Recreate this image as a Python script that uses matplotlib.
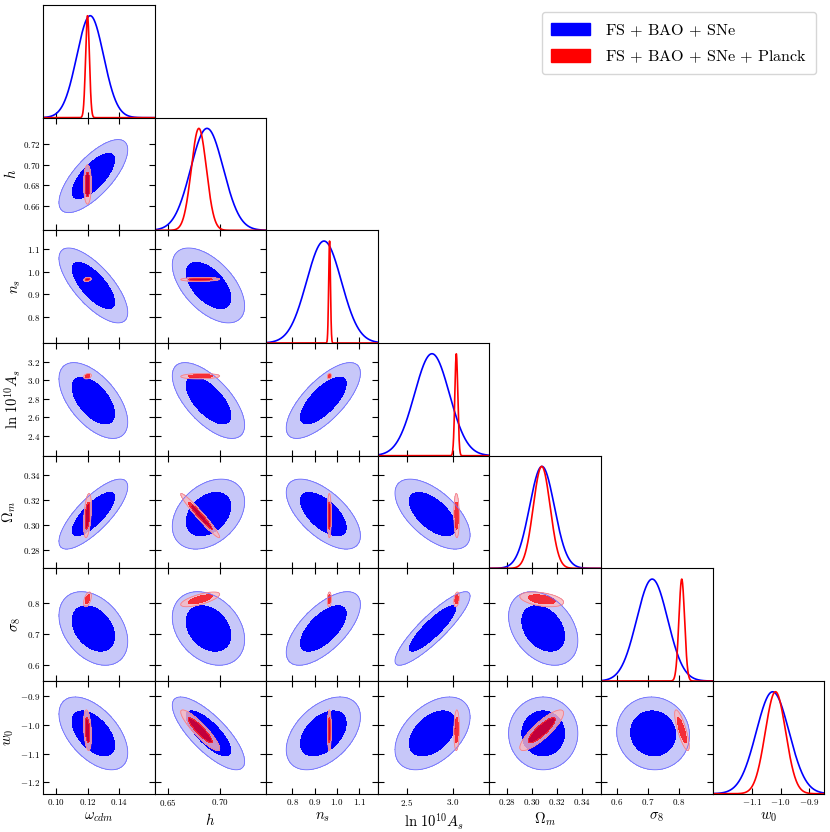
import numpy as np
import matplotlib
matplotlib.use('Agg')
import matplotlib.pyplot as plt
from matplotlib.patches import Patch

plt.rcParams['mathtext.fontset'] = 'cm'
plt.rcParams['font.family'] = 'serif'
plt.rcParams['font.serif'] = ['cmr10', 'DejaVu Serif']
plt.rcParams['axes.formatter.use_mathtext'] = True

# parameters, axis ranges and ticks
names = [r'$\omega_{cdm}$', r'$h$', r'$n_s$', r'$\ln\,10^{10} A_s$',
         r'$\Omega_m$', r'$\sigma_8$', r'$w_0$']
lims = [(0.0917, 0.1624), (0.637, 0.745), (0.683, 1.184), (2.185, 3.40),
        (0.2657, 0.3556), (0.55, 0.91), (-1.240, -0.846)]
xticks = [[0.10, 0.12, 0.14], [0.65, 0.70], [0.8, 0.9, 1.0, 1.1], [2.5, 3.0],
          [0.28, 0.30, 0.32, 0.34], [0.6, 0.7, 0.8], [-1.1, -1.0, -0.9]]
yticks = [[0.10, 0.12, 0.14], [0.66, 0.68, 0.70, 0.72], [0.8, 0.9, 1.0, 1.1],
          [2.4, 2.6, 2.8, 3.0, 3.2], [0.28, 0.30, 0.32, 0.34], [0.6, 0.7, 0.8],
          [-1.2, -1.1, -1.0, -0.9]]
decimals = [2, 2, 1, 1, 2, 1, 1]

# FS + BAO + SNe (blue)
blue_mean = [0.1235, 0.689, 0.939, 2.78, 0.309, 0.718, -1.029]
blue_sigma = [0.0089, 0.0143, 0.068, 0.167, 0.0114, 0.048, 0.052]
blue_peak = [0.1215, 0.6876, 0.942, 2.774, 0.308, 0.715, -1.028]
blue_sigma_1d = [0.0085, 0.0158, 0.078, 0.19, 0.0100, 0.050, 0.058]
blue_corr = [[0.72],
             [-0.72, -0.55],
             [-0.57, -0.65, 0.72],
             [0.78, 0.35, -0.62, -0.60],
             [-0.35, -0.30, 0.65, 0.88, -0.33],
             [-0.53, -0.77, 0.45, 0.45, 0.0, -0.05]]

# FS + BAO + SNe + Planck (red)
red_mean = [0.1198, 0.681, 0.966, 3.042, 0.3078, 0.811, -1.018]
red_sigma = [0.0010, 0.0077, 0.0036, 0.012, 0.0072, 0.0096, 0.029]
red_peak = [0.1198, 0.6797, 0.967, 3.039, 0.3078, 0.8104, -1.018]
red_sigma_1d = [0.0012, 0.0073, 0.0040, 0.016, 0.0068, 0.0092, 0.036]
red_corr = [[0.0],
            [0.3, 0.1],
            [0.3, 0.1, 0.2],
            [0.4, -0.97, 0.0, -0.1],
            [0.5, 0.7, 0.1, 0.3, -0.4],
            [-0.3, -0.9, 0.0, 0.1, 0.85, -0.8]]

labels = [r'$\mathrm{FS}\,+\,\mathrm{BAO}\,+\,\mathrm{SNe}$',
          r'$\mathrm{FS}\,+\,\mathrm{BAO}\,+\,\mathrm{SNe}\,+\,\mathrm{Planck}$']

blue_fill = [(0.78, 0.78, 0.975, 1.0), (0.0, 0.0, 1.0, 1.0)]
red_fill = [(0.976, 0.73, 0.753, 0.8), (1.0, 0.0, 0.0, 0.765)]
L95 = np.exp(-5.99 / 2)
L68 = np.exp(-2.28 / 2)

n = len(names)


def density(mean, sigma, corr, i, j):
    mx, my = mean[i], mean[j]
    sx, sy = sigma[i], sigma[j]
    rho = corr[j - 1][i]
    x = np.linspace(mx - 3.5 * sx, mx + 3.5 * sx, 300)
    y = np.linspace(my - 3.5 * sy, my + 3.5 * sy, 300)
    X, Y = np.meshgrid(x, y)
    dx = (X - mx) / sx
    dy = (Y - my) / sy
    q = (dx ** 2 - 2 * rho * dx * dy + dy ** 2) / (1 - rho ** 2)
    return X, Y, np.exp(-0.5 * q)


def tick_text(v, d):
    return '$%.*f$' % (d, v)


fig, axes = plt.subplots(n, n, figsize=(8.3, 8.32), dpi=100)
fig.subplots_adjust(left=0.052, right=0.993, bottom=0.046, top=0.994,
                    wspace=0, hspace=0)

for r in range(n):
    for c in range(n):
        ax = axes[r, c]
        if c > r:
            ax.axis('off')
            continue
        for sp in ax.spines.values():
            sp.set_linewidth(0.8)
        ax.set_xlim(lims[c])
        ax.set_xticks(xticks[c])
        ax.set_xticklabels([tick_text(v, decimals[c]) for v in xticks[c]])
        if r == c:
            xs = np.linspace(lims[c][0], lims[c][1], 800)
            ax.plot(xs, np.exp(-0.5 * ((xs - blue_peak[c]) / blue_sigma_1d[c]) ** 2),
                    color='blue', lw=1.2)
            ax.plot(xs, np.exp(-0.5 * ((xs - red_peak[c]) / red_sigma_1d[c]) ** 2),
                    color='red', lw=1.2)
            ax.set_ylim(0, 1.105)
            ax.set_yticks([])
            ax.tick_params(direction='in', length=4, width=0.8, labelsize=6.5,
                           pad=2, top=False)
        else:
            X, Y, Z = density(blue_mean, blue_sigma, blue_corr, c, r)
            ax.contourf(X, Y, Z, levels=[L95, L68, 2], colors=blue_fill)
            ax.contour(X, Y, Z, levels=[L95], colors=[(0.42, 0.42, 1.0)],
                       linewidths=0.6)
            X, Y, Z = density(red_mean, red_sigma, red_corr, c, r)
            ax.contourf(X, Y, Z, levels=[L95, L68, 2], colors=red_fill)
            ax.contour(X, Y, Z, levels=[L95], colors=[(0.95, 0.5, 0.55)],
                       linewidths=0.6)
            ax.set_ylim(lims[r])
            ax.set_yticks(yticks[r])
            ax.set_yticklabels([tick_text(v, decimals[r]) for v in yticks[r]])
            ax.tick_params(direction='in', length=4, width=0.8, labelsize=6.5,
                           pad=2, top=True, right=True)
            if c != 0:
                ax.tick_params(labelleft=False)
            else:
                ax.set_ylabel(names[r], fontsize=10.5, labelpad=3)
        if r != n - 1:
            ax.tick_params(labelbottom=False)
        else:
            ax.set_xlabel(names[c], fontsize=10.5, labelpad=3)

handles = [Patch(facecolor='blue', edgecolor='blue'),
           Patch(facecolor='red', edgecolor='red')]
fig.legend(handles, labels, loc='upper right', bbox_to_anchor=(0.993, 0.995),
           fontsize=11.6, handlelength=2.4, handleheight=0.8, handletextpad=0.9,
           labelspacing=0.6, borderpad=0.6, fancybox=True, edgecolor='0.8')

fig.savefig('out.png', dpi=100)
